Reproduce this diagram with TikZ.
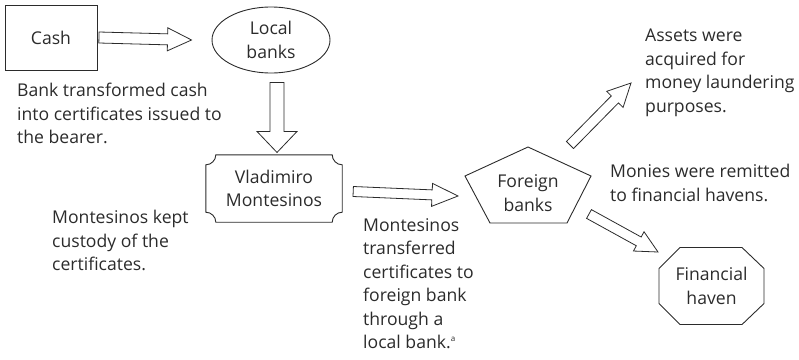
\documentclass[tikz,border=0pt]{standalone}
\usepackage{fontspec}
\setmainfont{Open Sans}
\usetikzlibrary{calc,shapes.geometric}
\definecolor{ink}{HTML}{2B2B2B}
\tikzset{
  shapeline/.style={draw=ink, line width=0.9pt},
  txt/.style={font=\fontsize{17.6}{23.5}\selectfont, text=ink, inner sep=0pt},
  note/.style={txt, align=left, anchor=north west},
  % fat hollow arrow between two named coordinates
  fat/.style={draw=ink, line width=0.8pt, line join=miter},
}
% \fatarrow{from}{to}{shaft half width}{head half width}{head length}
\newcommand\fatarrow[5]{%
  \draw[fat]
    ($(#1)!#3!90:(#2)$) --
    ($($(#2)!#5!(#1)$)!#3!-90:(#1)$) --
    ($($(#2)!#5!(#1)$)!#4!-90:(#1)$) --
    (#2) --
    ($($(#2)!#5!(#1)$)!#4!90:(#1)$) --
    ($($(#2)!#5!(#1)$)!#3!90:(#1)$) --
    ($(#1)!#3!-90:(#2)$) -- cycle;}
\newcommand\notemark{\raisebox{0.75ex}{\fontsize{8}{8}\selectfont a}}
\begin{document}
\begin{tikzpicture}[x=1pt,y=-1pt]
\useasboundingbox (0,0) rectangle (799,359);

% boxes and shapes
\node[shapeline, txt, minimum width=92pt, minimum height=65pt] (cash) at (51,37.5) {Cash};
\node[shapeline, txt, ellipse, minimum width=118pt, minimum height=66pt, align=center] (local) at (271,40) {Local\\banks};
\node[txt, minimum width=136pt, minimum height=67pt, align=center] (vm) at (274,188.5) {Vladimiro\\Montesinos};
\node[txt, align=center] (fb) at (528,193) {Foreign\\banks};
\node[txt, align=center] (fh) at (711.5,286) {Financial\\haven};

% scroll-like box with concave corners
\draw[shapeline]
  ($(vm.north west)+(10,0)$) -- ($(vm.north east)+(-10,0)$)
  .. controls ($(vm.north east)+(-10,5.5)$) and ($(vm.north east)+(-5.5,10)$) .. ($(vm.north east)+(0,10)$)
  -- ($(vm.south east)+(0,-10)$)
  .. controls ($(vm.south east)+(-5.5,-10)$) and ($(vm.south east)+(-10,-5.5)$) .. ($(vm.south east)+(-10,0)$)
  -- ($(vm.south west)+(10,0)$)
  .. controls ($(vm.south west)+(10,-5.5)$) and ($(vm.south west)+(5.5,-10)$) .. ($(vm.south west)+(0,-10)$)
  -- ($(vm.north west)+(0,10)$)
  .. controls ($(vm.north west)+(5.5,10)$) and ($(vm.north west)+(10,5.5)$) .. ($(vm.north west)+(10,0)$) -- cycle;

% pentagon round the foreign banks
\draw[shapeline] ($(fb)+(0,-46)$) -- ($(fb)+(63,-17)$) -- ($(fb)+(39,30)$)
  -- ($(fb)+(-38,30)$) -- ($(fb)+(-63,-17)$) -- cycle;

% octagon round the financial haven
\draw[shapeline] ($(fh)+(-31.5,-38.5)$) -- ($(fh)+(30.5,-38.5)$) -- ($(fh)+(52.5,-17.5)$)
  -- ($(fh)+(52.5,17.5)$) -- ($(fh)+(30.5,38.5)$) -- ($(fh)+(-31.5,38.5)$)
  -- ($(fh)+(-52.5,17.5)$) -- ($(fh)+(-52.5,-17.5)$) -- cycle;

% arrow ends
\coordinate (a1s) at ($(cash.east)+(1.5,0)$);
\coordinate (a1t) at ($(local.west)+(-20,0)$);
\coordinate (a2s) at ($(local.south)+(6,9)$);
\coordinate (a2t) at ($(local.south)+(6,79)$);
\coordinate (a3s) at ($(vm.east)+(11,3)$);
\coordinate (a3t) at ($(fb)+(-70,3)$);
\coordinate (a4s) at (570,145);
\coordinate (a4t) at (631,83);
\coordinate (a5s) at (589,214);
\coordinate (a5t) at (658,252);

\fatarrow{a1s}{a1t}{5.5pt}{11.5pt}{24pt}
\fatarrow{a2s}{a2t}{7pt}{20pt}{21pt}
\fatarrow{a3s}{a3t}{5pt}{11.5pt}{26pt}
\fatarrow{a4s}{a4t}{5pt}{11.5pt}{23pt}
\fatarrow{a5s}{a5t}{5pt}{11pt}{22pt}

% notes
\node[note] (n1) at (17,83) {Bank transformed cash\\into certificates issued to\\the bearer.};
\node[note] (n2) at (52,210) {Montesinos kept\\custody of the\\certificates.};
\node[note] (n3) at (363,218) {Montesinos\\transferred\\certificates to\\foreign bank\\through a\\local bank.\notemark};
\node[note] (n4) at (645,29) {Assets were\\acquired for\\money laundering\\purposes.};
\node[note] (n5) at (610,164) {Monies were remitted\\to financial havens.};
\end{tikzpicture}
\end{document}
